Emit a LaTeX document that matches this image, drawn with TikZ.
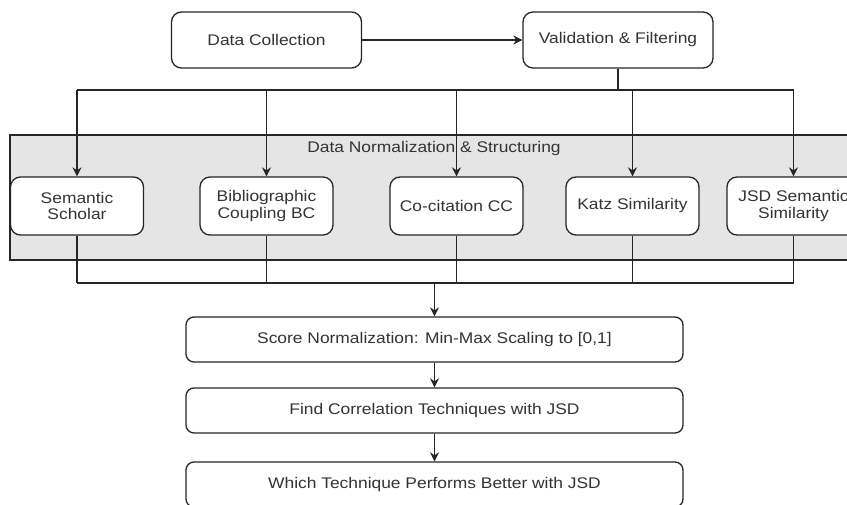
\documentclass[tikz,border=0pt]{standalone}
\usepackage{fontspec}
\setmainfont{Liberation Sans}[FakeStretch=1.13]
\usetikzlibrary{arrows.meta,positioning}
\tikzset
{
    process/.style={rectangle, rounded corners=10pt, draw=black!85, line width=1.3pt, fill=white, align=center, text=black!80, minimum width=190pt, minimum height=56pt, inner sep=2pt},
    method/.style={process, minimum width=133pt, minimum height=58pt},
    stage/.style={process, rounded corners=8pt, minimum width=497pt, minimum height=45pt},
    panel/.style={draw=black!85, line width=1.3pt, fill=black!10},
    arrow/.style={line width=1.3pt, draw=black!85, -{Stealth[length=9pt,width=9pt]}},
    wire/.style={line width=1.3pt, draw=black!85}
}

\begin{document}
\begin{tikzpicture}[x=1pt, y=-1pt, font=\fontsize{15.4}{16.7}\selectfont]
		\clip (0,0) rectangle (847,505);
		\fill[white] (0,0) rectangle (847,505);
		
		\node[process] (collect) at (266.5,40) {Data Collection};
		\node[process] (valid) at (618,40) {Validation \& Filtering};
		\draw[arrow] (collect) -- (valid);
		
		\draw[panel] (10,135) rectangle (858,260);
		\node[text=black!80] (normlabel) at (434,149) {Data Normalization \& Structuring};
		
		\node[method] (sem) at (77,206) {Semantic\\Scholar};
		\node[method] (bib) at (266.5,206) {Bibliographic\\Coupling BC};
		\node[method] (cocit) at (456.5,206) {Co-citation CC};
		\node[method] (katz) at (632.5,206) {Katz Similarity};
		\node[method] (jsd) at (793.5,206) {JSD Semantic\\Similarity};
		
		\coordinate (split) at (618,90);
		\draw[wire] (valid.south) -- (split);
		\draw[wire] (sem.north |- split) -- (jsd.north |- split);
		\foreach \m in {sem,bib,cocit,katz,jsd}
			\draw[arrow] (\m.north |- split) -- (\m.north);
		
		\node[stage] (score) at (434.5,339.5) {Score Normalization: Min-Max Scaling to [0,1]};
		\node[stage] (corr) at (434.5,410.5) {Find Correlation Techniques with JSD};
		\node[stage] (better) at (434.5,484.5) {Which Technique Performs Better with JSD};
		
		\coordinate (merge) at (434.5,283);
		\foreach \m in {sem,bib,cocit,katz,jsd}
			\draw[wire] (\m.south) -- (\m.south |- merge);
		\draw[wire] (sem.south |- merge) -- (jsd.south |- merge);
		\draw[arrow] (merge) -- (score.north);
		\draw[arrow] (score) -- (corr);
		\draw[arrow] (corr) -- (better);
		
		\end{tikzpicture}
\end{document}
